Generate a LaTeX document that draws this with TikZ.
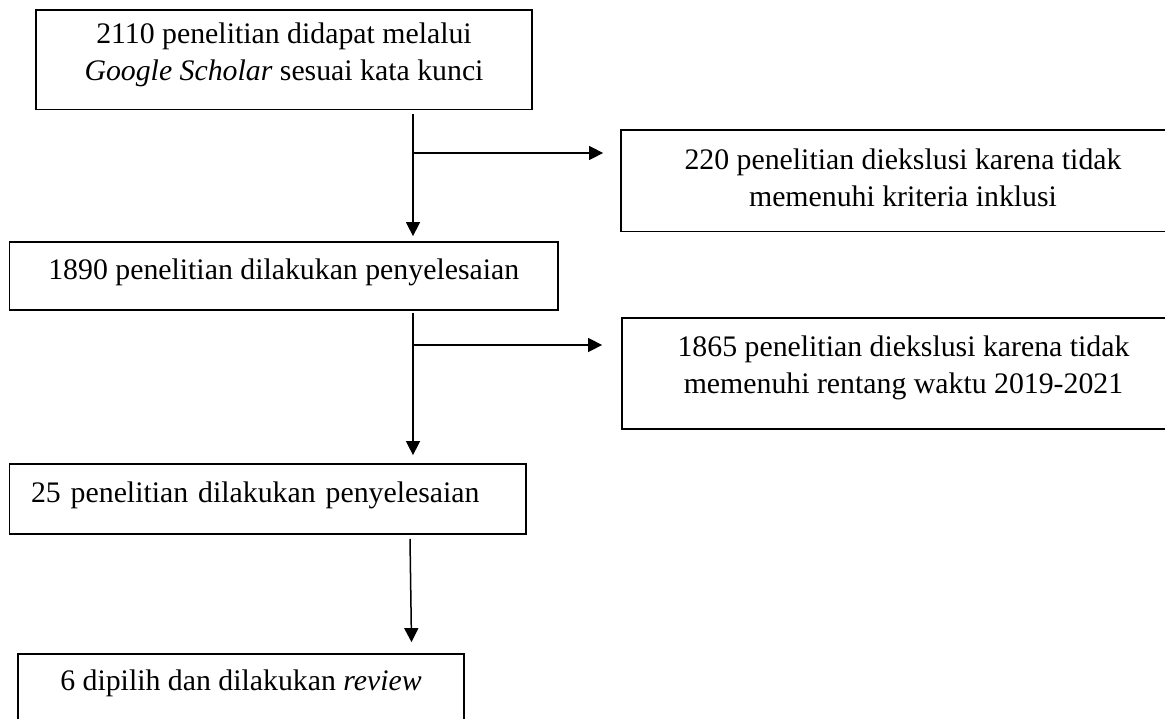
\documentclass[tikz,border=0pt]{standalone}
\usepackage{fontspec}
\setmainfont{Liberation Serif}
\usetikzlibrary{arrows.meta,calc}
\newcommand{\lowstrut}[1]{\rule[-#1]{0pt}{#1}}
\begin{document}
\begin{tikzpicture}[x=1pt,y=-1pt,
  box/.style={draw,line width=1.8pt,rectangle,inner sep=0pt,align=center,font=\fontsize{29.8}{37}\selectfont},
  arr/.style={line width=1.5pt,-{Triangle[length=14pt,width=14pt]}}]
\useasboundingbox (0,0) rectangle (1165,718);
\node[box,minimum width=496pt,minimum height=99.5pt] (b1) at (284,59.75)
  {2110 penelitian didapat melalui\\\textit{Google Scholar} sesuai kata kunci\lowstrut{15.5pt}};
\node[box,minimum width=564pt,minimum height=101.5pt] (b2) at (903,180.75)
  {220 penelitian diekslusi karena tidak\\memenuhi kriteria inklusi\lowstrut{6pt}};
\node[box,minimum width=548.5pt,minimum height=68pt] (b3) at (283.75,276)
  {1890 penelitian dilakukan penyelesaian\lowstrut{14.5pt}};
\node[box,minimum width=563pt,minimum height=111pt] (b4) at (903.5,373.5)
  {1865 penelitian diekslusi karena tidak\\memenuhi rentang waktu 2019-2021\lowstrut{18.5pt}};
\node[box,minimum width=516.5pt,minimum height=70pt,text width=473.5pt,align=left] (b5) at (267.75,499)
  {25 penelitian dilakukan penyelesaian\lowstrut{14.5pt}};
\node[box,minimum width=446pt,minimum height=70pt] (b6) at (241,689)
  {6 dipilih dan dilakukan \textit{review}\lowstrut{18.5pt}};
\coordinate (j1) at (413,153);
\coordinate (j2) at (413,345);
\draw[arr,shorten <=4pt,shorten >=5pt] (b1.south -| j1) -- (b3.north -| j1);
\draw[arr,shorten >=17pt] (j1) -- (j1 -| b2.west);
\draw[arr,shorten <=2pt,shorten >=8pt] (b3.south -| j2) -- (b5.north -| j2);
\draw[arr,shorten >=19pt] (j2) -- (j2 -| b4.west);
\draw[arr] ($(b5.south)+(142.25,4)$) -- ($(b6.north)+(170.5,-11)$);
\end{tikzpicture}
\end{document}
